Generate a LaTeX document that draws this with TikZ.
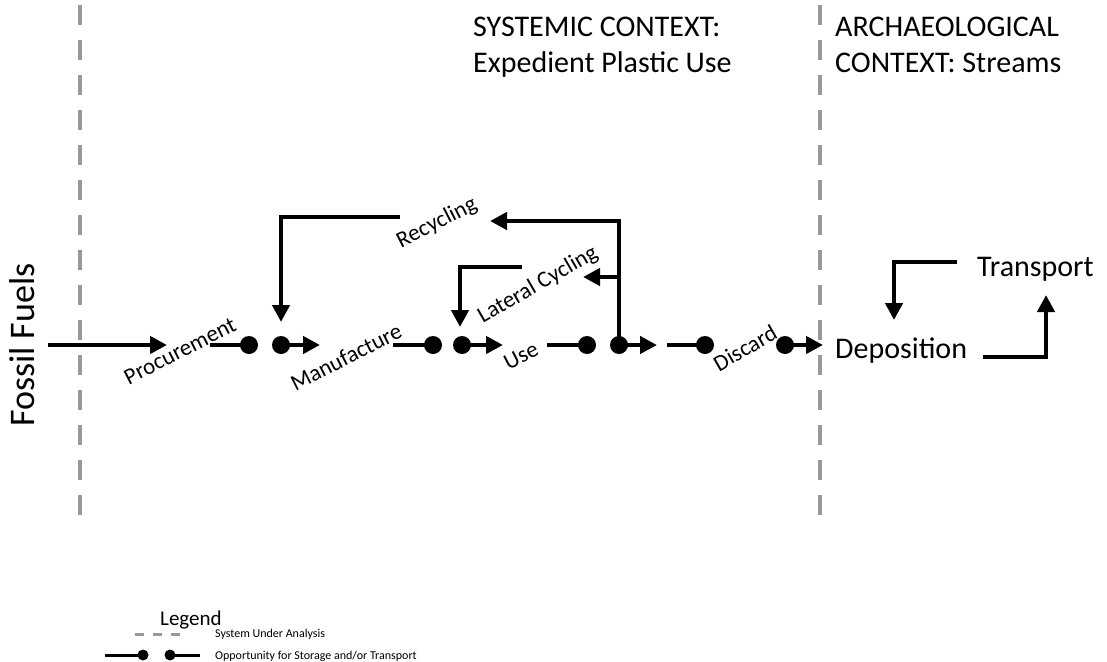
\documentclass[tikz,border=0pt]{standalone}
\usepackage{fontspec}
\setmainfont{Carlito}
\usetikzlibrary{arrows.meta}
\begin{document}
\begin{tikzpicture}[x=1pt,y=-1pt,
  flow/.style={line width=4.5pt,line join=miter},
  arr/.style={flow,-{Triangle[length=17pt,width=17pt]}},
  dot/.style={circle,fill=black,inner sep=0pt,minimum size=18pt},
  ldot/.style={circle,fill=black,inner sep=0pt,minimum size=11pt},
  sysline/.style={line width=4pt,draw=black!40,dash pattern=on 20pt off 15pt},
  lbl/.style={font=\fontsize{23}{25}\selectfont,rotate=27,inner sep=0pt},
  big/.style={font=\fontsize{30}{32}\selectfont,inner sep=0pt},
  head/.style={font=\fontsize{30}{34}\selectfont,inner sep=0pt,anchor=base west},
]
\fill[white] (0,0) rectangle (1107,661);
\useasboundingbox (0,0) rectangle (1107,661);

% system boundaries
\coordinate (b1t) at (80,5);   \coordinate (b1b) at (80,527);
\coordinate (b2t) at (820,5);  \coordinate (b2b) at (820,527);
\draw[sysline] (b1t) -- (b1b);
\draw[sysline] (b2t) -- (b2b);

% headers
\node[head] (h1) at (473,37) {SYSTEMIC CONTEXT:};
\node[head] (h2) at (473,72) {Expedient Plastic Use};
\node[head] (h3) at (835,37) {ARCHAEOLOGICAL};
\node[head] (h4) at (835,72) {CONTEXT: Streams};

% fossil fuels
\node[rotate=90,inner sep=0pt,font=\fontsize{36}{38}\selectfont] (ff) at (22,345) {Fossil Fuels};
\coordinate (ffs) at (48,345); \coordinate (ffe) at (167,345);
\draw[arr] (ffs) -- (ffe);

% stage labels
\node[lbl] (proc) at (180,351) {Procurement};
\node[lbl] (manu) at (346,357) {Manufacture};
\node[lbl] (use)  at (521,356) {Use};
\node[lbl,rotate=3] (disc) at (745,348) {Discard};
\node[lbl] (recy) at (437,223) {Recycling};
\node[lbl,rotate=3] (lat)  at (538,285) {Lateral Cycling};

% stage 1
\coordinate (s1) at (210,345); \node[dot] (d1a) at (249,345) {}; \node[dot] (d1b) at (281,345) {}; \coordinate (e1) at (320,345);
% stage 2
\coordinate (s2) at (393,345); \node[dot] (d2a) at (433,345) {}; \node[dot] (d2b) at (462,345) {}; \coordinate (e2) at (503,345);
% stage 3
\coordinate (s3) at (547,345); \node[dot] (d3a) at (587,345) {}; \node[dot] (d3b) at (619,345) {}; \coordinate (e3) at (657,345);
% stage 4
\coordinate (s4) at (667,345); \node[dot] (d4a) at (705,345) {}; \node[dot] (d4b) at (785,345) {}; \coordinate (e4) at (823,345);

\draw[flow] (s1) -- (d1a.center); \draw[arr] (d1b.center) -- (e1);
\draw[flow] (s2) -- (d2a.center); \draw[arr] (d2b.center) -- (e2);
\draw[flow] (s3) -- (d3a.center); \draw[arr] (d3b.center) -- (e3);
\draw[flow] (s4) -- (d4a.center); \draw[arr] (d4b.center) -- (e4);

% recycling loop
\coordinate (rc1) at (400,217); \coordinate (rc2) at (281,322);
\draw[arr] (rc1) -| (rc2);
\coordinate (rt) at (490,221);
\draw[arr] (d3b.center) |- (rt);
\coordinate (br) at (619,277); \coordinate (lt) at (583,277);
\draw[arr] (br) -- (lt);
\coordinate (lc1) at (522,267); \coordinate (lc2) at (460,327);
\draw[arr] (lc1) -| (lc2);

% archaeological context
\node[big,anchor=base west] (dep) at (835,358) {Deposition};
\node[big,anchor=base west] (tra) at (977,276) {Transport};
\coordinate (t1) at (957,262); \coordinate (t2) at (894,320);
\draw[arr] (t1) -| (t2);
\coordinate (t3) at (983,357); \coordinate (t4) at (1046,295);
\draw[arr] (t3) -| (t4);

% legend
\node[font=\fontsize{21}{23}\selectfont,anchor=base west,inner sep=0pt] (leg) at (160,625) {Legend};
\coordinate (ld1) at (135,634); \coordinate (ld2) at (188,634);
\draw[line width=3pt,draw=black!40,dash pattern=on 9pt off 9pt] (ld1) -- (ld2);
\node[font=\fontsize{12}{14}\selectfont,anchor=base west,inner sep=0pt] (lt1) at (215,637) {System Under Analysis};
\coordinate (lo1) at (105,655); \node[ldot] (lo2) at (143,655) {}; \node[ldot] (lo3) at (170,655) {}; \coordinate (lo4) at (200,655);
\draw[line width=3pt] (lo1) -- (lo2.center);
\draw[line width=3pt] (lo3.center) -- (lo4);
\node[font=\fontsize{12}{14}\selectfont,anchor=base west,inner sep=0pt] (lt2) at (215,659) {Opportunity for Storage and/or Transport};
\end{tikzpicture}
\end{document}
